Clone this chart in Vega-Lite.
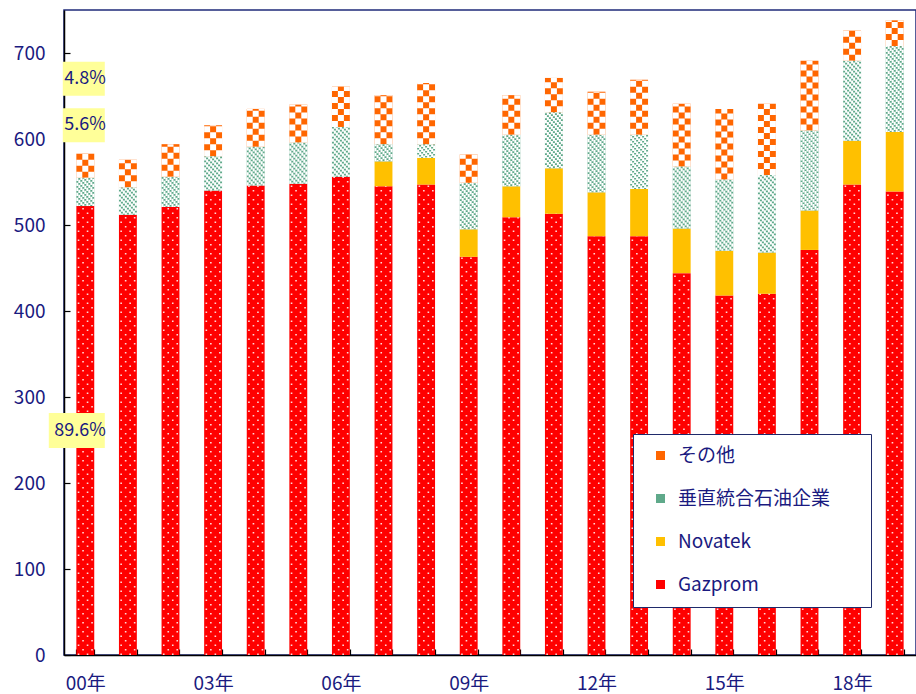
{
  "$schema": "https://vega.github.io/schema/vega-lite/v6.json",
  "width": 852,
  "height": 645,
  "autosize": {"type": "none"},
  "padding": {"left": 64, "top": 10, "right": 0, "bottom": 39},
  "background": "white",
  "config": {
    "font": "Noto Sans CJK JP",
    "view": {"stroke": "#1F2A7A", "strokeWidth": 1.5},
    "axis": {"grid": false, "title": null, "domainColor": "black", "domainWidth": 1.5, "tickColor": "black", "tickWidth": 1.2, "labelColor": "#1A1A80", "labelFontSize": 19, "labelFont": "Noto Sans CJK JP"}
  },
  "data": {"values": [
    {"year": "2000", "series": "Gazprom", "order": 1, "value": 522},
    {"year": "2000", "series": "垂直統合石油企業", "order": 3, "value": 33},
    {"year": "2000", "series": "その他", "order": 4, "value": 28},
    {"year": "2001", "series": "Gazprom", "order": 1, "value": 512},
    {"year": "2001", "series": "垂直統合石油企業", "order": 3, "value": 32},
    {"year": "2001", "series": "その他", "order": 4, "value": 32},
    {"year": "2002", "series": "Gazprom", "order": 1, "value": 521},
    {"year": "2002", "series": "垂直統合石油企業", "order": 3, "value": 35},
    {"year": "2002", "series": "その他", "order": 4, "value": 38},
    {"year": "2003", "series": "Gazprom", "order": 1, "value": 540},
    {"year": "2003", "series": "垂直統合石油企業", "order": 3, "value": 40},
    {"year": "2003", "series": "その他", "order": 4, "value": 36},
    {"year": "2004", "series": "Gazprom", "order": 1, "value": 546},
    {"year": "2004", "series": "垂直統合石油企業", "order": 3, "value": 45},
    {"year": "2004", "series": "その他", "order": 4, "value": 44},
    {"year": "2005", "series": "Gazprom", "order": 1, "value": 548},
    {"year": "2005", "series": "垂直統合石油企業", "order": 3, "value": 48},
    {"year": "2005", "series": "その他", "order": 4, "value": 44},
    {"year": "2006", "series": "Gazprom", "order": 1, "value": 556},
    {"year": "2006", "series": "垂直統合石油企業", "order": 3, "value": 58},
    {"year": "2006", "series": "その他", "order": 4, "value": 47},
    {"year": "2007", "series": "Gazprom", "order": 1, "value": 545},
    {"year": "2007", "series": "Novatek", "order": 2, "value": 29},
    {"year": "2007", "series": "垂直統合石油企業", "order": 3, "value": 20},
    {"year": "2007", "series": "その他", "order": 4, "value": 57},
    {"year": "2008", "series": "Gazprom", "order": 1, "value": 547},
    {"year": "2008", "series": "Novatek", "order": 2, "value": 31},
    {"year": "2008", "series": "垂直統合石油企業", "order": 3, "value": 16},
    {"year": "2008", "series": "その他", "order": 4, "value": 71},
    {"year": "2009", "series": "Gazprom", "order": 1, "value": 463},
    {"year": "2009", "series": "Novatek", "order": 2, "value": 32},
    {"year": "2009", "series": "垂直統合石油企業", "order": 3, "value": 54},
    {"year": "2009", "series": "その他", "order": 4, "value": 33},
    {"year": "2010", "series": "Gazprom", "order": 1, "value": 509},
    {"year": "2010", "series": "Novatek", "order": 2, "value": 36},
    {"year": "2010", "series": "垂直統合石油企業", "order": 3, "value": 60},
    {"year": "2010", "series": "その他", "order": 4, "value": 46},
    {"year": "2011", "series": "Gazprom", "order": 1, "value": 513},
    {"year": "2011", "series": "Novatek", "order": 2, "value": 53},
    {"year": "2011", "series": "垂直統合石油企業", "order": 3, "value": 65},
    {"year": "2011", "series": "その他", "order": 4, "value": 40},
    {"year": "2012", "series": "Gazprom", "order": 1, "value": 487},
    {"year": "2012", "series": "Novatek", "order": 2, "value": 51},
    {"year": "2012", "series": "垂直統合石油企業", "order": 3, "value": 67},
    {"year": "2012", "series": "その他", "order": 4, "value": 50},
    {"year": "2013", "series": "Gazprom", "order": 1, "value": 487},
    {"year": "2013", "series": "Novatek", "order": 2, "value": 55},
    {"year": "2013", "series": "垂直統合石油企業", "order": 3, "value": 63},
    {"year": "2013", "series": "その他", "order": 4, "value": 64},
    {"year": "2014", "series": "Gazprom", "order": 1, "value": 444},
    {"year": "2014", "series": "Novatek", "order": 2, "value": 52},
    {"year": "2014", "series": "垂直統合石油企業", "order": 3, "value": 72},
    {"year": "2014", "series": "その他", "order": 4, "value": 73},
    {"year": "2015", "series": "Gazprom", "order": 1, "value": 418},
    {"year": "2015", "series": "Novatek", "order": 2, "value": 52},
    {"year": "2015", "series": "垂直統合石油企業", "order": 3, "value": 83},
    {"year": "2015", "series": "その他", "order": 4, "value": 82},
    {"year": "2016", "series": "Gazprom", "order": 1, "value": 420},
    {"year": "2016", "series": "Novatek", "order": 2, "value": 48},
    {"year": "2016", "series": "垂直統合石油企業", "order": 3, "value": 90},
    {"year": "2016", "series": "その他", "order": 4, "value": 83},
    {"year": "2017", "series": "Gazprom", "order": 1, "value": 471},
    {"year": "2017", "series": "Novatek", "order": 2, "value": 46},
    {"year": "2017", "series": "垂直統合石油企業", "order": 3, "value": 93},
    {"year": "2017", "series": "その他", "order": 4, "value": 81},
    {"year": "2018", "series": "Gazprom", "order": 1, "value": 547},
    {"year": "2018", "series": "Novatek", "order": 2, "value": 51},
    {"year": "2018", "series": "垂直統合石油企業", "order": 3, "value": 93},
    {"year": "2018", "series": "その他", "order": 4, "value": 35},
    {"year": "2019", "series": "Gazprom", "order": 1, "value": 539},
    {"year": "2019", "series": "Novatek", "order": 2, "value": 69},
    {"year": "2019", "series": "垂直統合石油企業", "order": 3, "value": 100},
    {"year": "2019", "series": "その他", "order": 4, "value": 30}
  ]},
  "transform": [
    {"stack": "value", "groupby": ["year"], "sort": [{"field": "order", "order": "ascending"}], "as": ["lo", "hi"]}
  ],
  "encoding": {
    "x": {"field": "year", "type": "ordinal", "scale": {"paddingInner": 0.58, "paddingOuter": 0.29},
      "axis": {"labelAngle": 0, "tickBand": "extent", "tickSize": -6, "labelPadding": 25, "labelExpr": "(toNumber(datum.value) - 2000) % 3 == 0 ? substring(datum.value, 2) + '年' : ''"}},
    "y": {"field": "lo", "type": "quantitative", "scale": {"domain": [0, 750], "nice": false},
      "axis": {"values": [0, 100, 200, 300, 400, 500, 600, 700], "tickSize": -6, "labelPadding": 25}},
    "y2": {"field": "hi"}
  },
  "layer": [
    {
      "mark": {"type": "bar"},
      "encoding": {
        "color": {"field": "series", "type": "nominal",
          "scale": {"domain": ["その他", "垂直統合石油企業", "Novatek", "Gazprom"], "range": ["#FF6600", "#5FA98A", "#FFC000", "#FF0000"]},
          "legend": {"title": null, "orient": "none", "legendX": 569, "legendY": 424, "symbolType": "square", "symbolSize": 81, "symbolStrokeWidth": 0, "symbolOffset": 6, "labelFontSize": 19, "labelColor": "#1A1A80", "labelFont": "Noto Sans CJK JP", "labelLimit": 400, "rowPadding": 23, "padding": 12, "labelOffset": 8, "strokeColor": "#1F2A6B", "fillColor": "white", "labelExpr": "datum.label + '\u3000\u2002\u200b'"}
        }
      }
    },
    {
      "transform": [{"filter": "datum.series == 'その他'"}],
      "layer": [
        {"mark": {"type": "rule", "stroke": "white", "strokeWidth": 6, "strokeDash": [6, 6], "strokeDashOffset": 0, "xOffset": -6}},
        {"mark": {"type": "rule", "stroke": "white", "strokeWidth": 6, "strokeDash": [6, 6], "strokeDashOffset": 6, "xOffset": 0}},
        {"mark": {"type": "rule", "stroke": "white", "strokeWidth": 6, "strokeDash": [6, 6], "strokeDashOffset": 0, "xOffset": 6}}
      ]
    },
    {
      "transform": [{"filter": "datum.series == '垂直統合石油企業'"}],
      "layer": [
        {"mark": {"type": "rule", "stroke": "white", "strokeWidth": 2, "strokeDash": [3.3, 1.7], "strokeDashOffset": 0, "xOffset": -8}},
        {"mark": {"type": "rule", "stroke": "white", "strokeWidth": 2, "strokeDash": [3.3, 1.7], "strokeDashOffset": 2, "xOffset": -6}},
        {"mark": {"type": "rule", "stroke": "white", "strokeWidth": 2, "strokeDash": [3.3, 1.7], "strokeDashOffset": 4, "xOffset": -4}},
        {"mark": {"type": "rule", "stroke": "white", "strokeWidth": 2, "strokeDash": [3.3, 1.7], "strokeDashOffset": 1, "xOffset": -2}},
        {"mark": {"type": "rule", "stroke": "white", "strokeWidth": 2, "strokeDash": [3.3, 1.7], "strokeDashOffset": 3, "xOffset": 0}},
        {"mark": {"type": "rule", "stroke": "white", "strokeWidth": 2, "strokeDash": [3.3, 1.7], "strokeDashOffset": 0, "xOffset": 2}},
        {"mark": {"type": "rule", "stroke": "white", "strokeWidth": 2, "strokeDash": [3.3, 1.7], "strokeDashOffset": 2, "xOffset": 4}},
        {"mark": {"type": "rule", "stroke": "white", "strokeWidth": 2, "strokeDash": [3.3, 1.7], "strokeDashOffset": 4, "xOffset": 6}},
        {"mark": {"type": "rule", "stroke": "white", "strokeWidth": 2, "strokeDash": [3.3, 1.7], "strokeDashOffset": 1, "xOffset": 8}}
      ]
    },
    {
      "transform": [{"filter": "datum.series == 'Gazprom'"}],
      "layer": [
        {"mark": {"type": "rule", "stroke": "white", "opacity": 0.85, "strokeWidth": 1.6, "strokeDash": [1.6, 7.4], "strokeDashOffset": 0, "xOffset": -6.75}},
        {"mark": {"type": "rule", "stroke": "white", "opacity": 0.85, "strokeWidth": 1.6, "strokeDash": [1.6, 7.4], "strokeDashOffset": 4.5, "xOffset": -2.25}},
        {"mark": {"type": "rule", "stroke": "white", "opacity": 0.85, "strokeWidth": 1.6, "strokeDash": [1.6, 7.4], "strokeDashOffset": 0, "xOffset": 2.25}},
        {"mark": {"type": "rule", "stroke": "white", "opacity": 0.85, "strokeWidth": 1.6, "strokeDash": [1.6, 7.4], "strokeDashOffset": 4.5, "xOffset": 6.75}}
      ]
    },
    {
      "data": {"values": [
        {"year": "2000", "label": "4.8%", "pos": 670},
        {"year": "2000", "label": "5.6%", "pos": 616},
        {"year": "2000", "label": "89.6%", "pos": 261}
      ]},
      "encoding": {
        "x": {"field": "year", "type": "ordinal"},
        "y": {"field": "pos", "type": "quantitative"},
        "y2": null
      },
      "layer": [
        {"transform": [{"filter": "datum.label != '89.6%'"}],
          "mark": {"type": "point", "shape": "M-21,-17H21V17H-21Z", "size": 4, "filled": true, "fill": "#FFFF99", "opacity": 1, "strokeWidth": 0, "xOffset": -1.5}},
        {"transform": [{"filter": "datum.label == '89.6%'"}],
          "mark": {"type": "point", "shape": "M-28,-17.5H28V17.5H-28Z", "size": 4, "filled": true, "fill": "#FFFF99", "opacity": 1, "strokeWidth": 0, "xOffset": -8.5}},
        {"mark": {"type": "text", "align": "right", "baseline": "middle", "dx": 20.5, "fontSize": 18, "color": "#1A1A80", "font": "Noto Sans CJK JP"},
          "encoding": {"text": {"field": "label"}}}
      ]
    }
  ]
}
